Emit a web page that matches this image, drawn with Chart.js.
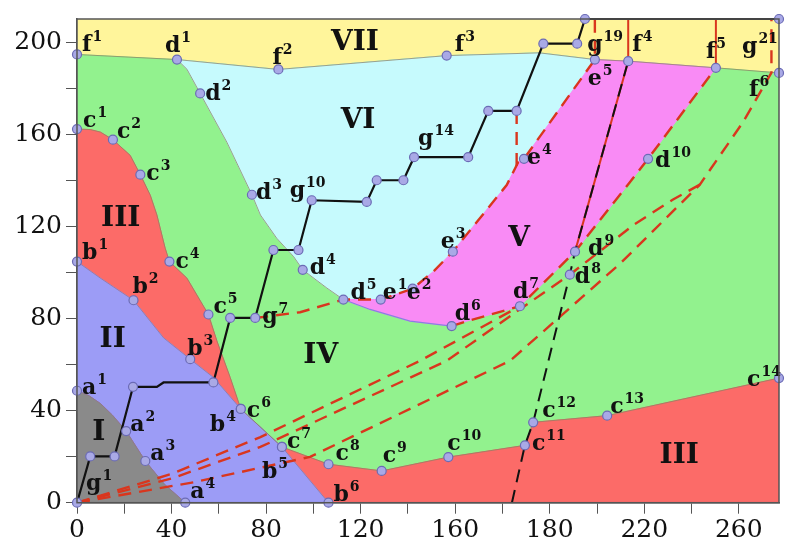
<!DOCTYPE html>
<html>
<head>
<meta charset="utf-8">
<script src="https://cdn.jsdelivr.net/npm/chart.js@4.4.1/dist/chart.umd.min.js"></script>
<style>
  html, body { margin: 0; padding: 0; background: #ffffff; }
  #wrap { width: 786px; height: 544px; }
</style>
</head>
<body>
<div id="wrap"><canvas id="chart" width="786" height="544"></canvas></div>
<script>
// ---------- axis tick labels ----------
const xTickLabels = ['0', '40', '80', '120', '160', '180', '220', '260'];
const yTickLabels = ['0', '40', '80', '120', '160', '200'];
const X_MAX = 297, Y_MAX = 210;

// ---------- named points (axis units) ----------
const aPts = [[0, 48.6], [20.8, 31.1], [28.9, 18.1], [45.8, 0]];                                   // a1..a4
const bPts = [[0, 104.7], [23.9, 87.9], [47.9, 62.3], [69.3, 40.7], [86.7, 24.2], [106.4, 0]];     // b1..b6
const cPts = [[0, 162.2], [15.2, 157.6], [26.8, 142.4], [39.1, 104.7], [55.6, 81.7], [69.3, 40.7],
              [86.7, 24.2], [106.4, 16.7], [128.9, 13.8], [157.1, 19.8], [189.5, 24.9], [193, 34.9],
              [224.3, 37.8], [297, 54.1]];                                                          // c1..c14
const dPts = [[42.3, 192.4], [52.1, 177.7], [74, 133.7], [95.5, 101.1], [112.7, 88.2], [158.5, 76.7],
              [187.4, 85.3], [208.5, 99], [210.7, 109], [241.6, 149.3]];                            // d1..d10
const ePts = [[128.5, 88.2], [142, 92.9], [159, 109], [189.1, 149.3], [219.1, 192.4]];             // e1..e5
const fPts = [[0, 194.6], [85.2, 188.1], [156.4, 194.1], [233.2, 191.7], [270.3, 188.8], [297, 186.6]]; // f1..f6
const gPts = [[0, 0], [5.6, 20.1], [15.9, 20.1], [23.7, 50.3], [57.7, 52.2], [64.8, 80.2], [75.4, 80.2],
              [83.1, 109.7], [93.7, 109.7], [99.3, 131.3], [122.6, 130.6], [126.8, 140], [138.1, 140],
              [142.6, 150], [165.5, 150], [174, 170.1], [186, 170.1], [197.3, 199.3], [211.6, 199.3],
              [214.9, 210], [297, 210]];                                                            // g1..g21

// ---------- boundary curves (extra read-off points between named points) ----------
const curveI_II = [aPts[0], [5, 46.5], [10, 43], [15, 38], aPts[1], aPts[2], [37, 8], aPts[3]];
const curveII_III = [bPts[0], [9.9, 97.5], bPts[1], [36.6, 71.6], bPts[2], [57.7, 54.4], bPts[3], bPts[4], bPts[5]];
const curveIII_IV = [cPts[0], [5.6, 162], [9.9, 160.9], cPts[1], [22.5, 150.8], cPts[2], [31, 133.5],
                     [33.8, 124.9], [37.3, 110.5], cPts[3], [46.5, 97.5], cPts[4], [59.2, 70.2], [64.8, 54.4], cPts[5]];
const curveIV_IIIb = [cPts[6], cPts[7], cPts[8], cPts[9], cPts[10], cPts[11], cPts[12], cPts[13]];
const curveIV_VI = [dPts[0], [46.5, 188.2], dPts[1], [63.4, 156.5], dPts[2], [77.6, 124.9], [84.5, 114.8],
                    [91.6, 106.9], dPts[3], [105.7, 93.2], dPts[4]];
const curveVI_V = [dPts[4], ePts[0], ePts[1], [150.8, 100.4], ePts[2], [181.8, 137.9], [186.7, 147.9], ePts[3], ePts[4]];
const curveV_IVlow = [dPts[4], [124, 83.9], [140.9, 78.8], dPts[5]];
const curveV_IVup = [dPts[5], [164.9, 78.8], dPts[6], dPts[8], [233.9, 139.1], dPts[9], fPts[4]];
const curveVII = [fPts[0], dPts[0], fPts[1], fPts[2], [195.6, 195.3], ePts[4], fPts[3], fPts[4], fPts[5]];

// dashed transition lines
const lineG7 = [gPts[6], [94.4, 82.7], dPts[4]];
const lineOriginA = [[0, 0], [40, 12.5], [77.6, 28.5], [145.1, 61.6], dPts[6]];
const lineOriginB = [[0, 0], [40, 10.5], [77.6, 24.2], [156.4, 61.6], [187.4, 84], dPts[7], [236, 121], [252, 131.5], [263.5, 138.1]];
const lineOriginC = [[0, 0], [50, 9], [98.6, 19.9], [183.2, 61.6], [230, 104], [263.5, 138.1], [281.7, 165.1], [293.8, 186.7], [293.8, 210]];
const lineBlack = [[184, 0], cPts[10], cPts[11], dPts[7], dPts[8], fPts[3]];
const stairs = [gPts[0], gPts[1], gPts[2], gPts[3], [33.8, 50.3], [36.6, 52.2], ...gPts.slice(4)];

// ---------- text ----------
const pointLabels = [
  ['f', '1', fPts[0], 5, -3], ['d', '1', dPts[0], -12, -8], ['f', '2', fPts[1], -6, -5],
  ['f', '3', fPts[2], 8, -5], ['g', '19', gPts[18], 10, 7], ['f', '4', fPts[3], 4, -10],
  ['f', '5', fPts[4], -10, -10], ['g', '21', gPts[20], -37, 34], ['f', '6', fPts[5], -30, 23],
  ['e', '5', ePts[4], -7, 25], ['d', '2', dPts[1], 5, 7], ['g', '14', gPts[13], 4, -12],
  ['c', '1', cPts[0], 6, -2], ['c', '2', cPts[1], 4, -2], ['c', '3', cPts[2], 6, 5],
  ['d', '3', dPts[2], 4, 4], ['g', '10', gPts[9], -22, -3], ['e', '4', ePts[3], 3, 5],
  ['d', '10', dPts[9], 7, 8], ['e', '3', ePts[2], -12, -4], ['b', '1', bPts[0], 5, -3],
  ['c', '4', cPts[3], 6, 6], ['d', '9', dPts[8], 13, 3], ['d', '8', dPts[7], 5, 8],
  ['d', '4', dPts[3], 7, 4], ['b', '2', bPts[1], -1, -7], ['d', '5', dPts[4], 7, -1],
  ['e', '1', ePts[0], 2, -1], ['e', '2', ePts[1], -6, 10], ['c', '5', cPts[4], 5, -2],
  ['g', '7', gPts[6], 7, 5], ['d', '6', dPts[5], 3, -6], ['d', '7', dPts[6], -7, -8],
  ['b', '3', bPts[2], -3, -4], ['a', '1', aPts[0], 5, 3], ['c', '14', cPts[13], -32, 8],
  ['c', '6', cPts[5], 6, 8], ['b', '4', bPts[3], -31, 22], ['a', '2', aPts[1], 4, 0],
  ['c', '12', cPts[11], 9, -5], ['c', '13', cPts[12], 3, -3], ['c', '7', cPts[6], 5, 1],
  ['c', '11', cPts[10], 7, 5], ['a', '3', aPts[2], 5, -1], ['c', '10', cPts[9], -1, -7],
  ['c', '8', cPts[7], 7, -4], ['c', '9', cPts[8], 1, -9], ['b', '5', bPts[4], -20, 31],
  ['g', '1', gPts[0], 9, -13], ['a', '4', aPts[3], 5, -5], ['b', '6', bPts[5], 5, -2]
];
const regionLabels = [
  ['VII', [117.6, 199.7]], ['VI', [118.9, 165.8]], ['V', [187, 114.5]], ['IV', [103.1, 63.7]],
  ['III', [18.5, 123.3]], ['II', [15.1, 70.9]], ['I', [9.2, 30.3]], ['III', [254.8, 20.2]]
];

// ---------- colours ----------
const C = {
  yellow: '#FFF59B', green: '#92F28E', cyan: '#C6FAFD', magenta: '#F98BF5',
  red: '#FC6B68', blue: '#9C9CF6', gray: '#8A8A8A',
  dashRed: '#D9361E', black: '#111111', edge: 'rgba(140,130,100,0.75)'
};

// ---------- dataset builders ----------
const xy = arr => arr.map(p => ({ x: p[0], y: p[1] }));
const area = (pts, color) => ({ data: xy(pts), fill: 'shape', backgroundColor: color, borderColor: color,
  borderWidth: 1, pointRadius: 0, tension: 0 });
const path = (pts, color, width, dash) => ({ data: xy(pts), fill: false, borderColor: color, borderWidth: width,
  borderDash: dash || [], pointRadius: 0, tension: 0, clip: false });
const dots = pts => ({ data: xy(pts), showLine: false, pointRadius: 4.5, pointBackgroundColor: '#A9A9E6',
  pointBorderColor: '#6B6BB5', pointBorderWidth: 1.2, clip: false });

const DASH = [13, 8];
const datasets = [
  area([[0, 0], [X_MAX, 0], [X_MAX, Y_MAX], [0, Y_MAX]], C.yellow),
  area([...curveVII, [X_MAX, 0], [0, 0]], C.green),
  area([dPts[0], fPts[1], fPts[2], [195.6, 195.3], ePts[4], ...curveVI_V.slice().reverse(), ...curveIV_VI.slice().reverse()], C.cyan),
  area([ePts[4], fPts[3], fPts[4], ...curveV_IVup.slice().reverse(), ...curveV_IVlow.slice().reverse(), ...curveVI_V], C.magenta),
  area([...curveIII_IV, ...curveII_III.slice(0, 7).reverse()], C.red),
  area([...curveIV_IIIb, [X_MAX, 0], bPts[5], bPts[4]], C.red),
  area([...curveII_III, [0, 0]], C.blue),
  area([[0, 0], ...curveI_II.slice().reverse()], C.gray),

  path(curveI_II, 'rgba(150,110,140,0.7)', 1),
  path(curveII_III, 'rgba(150,110,140,0.7)', 1),
  path(curveIII_IV, C.edge, 1),
  path(curveIV_IIIb, C.edge, 1),
  path(curveIV_VI, C.edge, 1),
  path(curveVII, C.edge, 1),
  path(curveV_IVlow, '#8A7FE0', 1.2),
  path([bPts[3], bPts[4]], C.edge, 1),

  path(lineOriginC, C.dashRed, 2.4, DASH),
  path(lineOriginB, C.dashRed, 2.4, DASH),
  path(lineOriginA, C.dashRed, 2.4, DASH),
  path([...lineG7, ...curveVI_V.slice(1), [ePts[4][0], Y_MAX]], C.dashRed, 2.4, DASH),
  path([gPts[16], [186, 146]], C.dashRed, 2.4, DASH),
  path(curveV_IVup, C.dashRed, 2.4, DASH),
  path([fPts[4], [fPts[4][0], Y_MAX]], C.dashRed, 2, []),
  path([fPts[3], [fPts[3][0], Y_MAX]], C.dashRed, 2, []),
  path([dPts[8], fPts[3]], C.dashRed, 2, []),
  path(lineBlack, C.black, 2, DASH),
  path(stairs, C.black, 2.2, []),

  dots([...aPts, ...bPts, ...cPts, ...dPts, ...ePts, ...fPts, ...gPts])
];
datasets.forEach((d, i) => { d.order = datasets.length - i; });

// ---------- text and frame ----------
const phaseText = {
  id: 'phaseText',
  afterDatasetsDraw(chart) {
    const { ctx, scales: { x, y } } = chart;
    ctx.save();
    ctx.fillStyle = '#111';
    ctx.textAlign = 'left';
    ctx.textBaseline = 'alphabetic';
    for (const [base, sup, p, dx, dy] of pointLabels) {
      const px = x.getPixelForValue(p[0]) + dx;
      const py = y.getPixelForValue(p[1]) + dy;
      ctx.font = 'bold 22px "DejaVu Serif"';
      ctx.fillText(base, px, py);
      const w = ctx.measureText(base).width;
      ctx.font = 'bold 14px "DejaVu Serif"';
      ctx.fillText(sup, px + w + 1, py - 10);
    }
    ctx.textAlign = 'center';
    ctx.textBaseline = 'middle';
    ctx.font = 'bold 28px "DejaVu Serif"';
    for (const [t, p] of regionLabels) {
      ctx.fillText(t, x.getPixelForValue(p[0]), y.getPixelForValue(p[1]));
    }
    ctx.restore();
  },
  afterDraw(chart) {
    const { ctx, chartArea: a } = chart;
    ctx.save();
    ctx.strokeStyle = '#555';
    ctx.lineWidth = 1.5;
    ctx.strokeRect(a.left, a.top, a.right - a.left, a.bottom - a.top);
    ctx.restore();
  }
};

new Chart(document.getElementById('chart'), {
  type: 'line',
  data: { datasets },
  options: {
    responsive: false,
    animation: false,
    devicePixelRatio: 1,
    layout: { padding: { top: 16, right: 7, left: 0, bottom: 0 } },
    plugins: { legend: { display: false }, tooltip: { enabled: false } },
    events: [],
    scales: {
      x: {
        type: 'linear', min: 0, max: X_MAX,
        afterFit: s => { s.height = 41.3; },
        border: { display: true, color: '#555', width: 1.5 },
        grid: { drawOnChartArea: false, drawTicks: true, tickLength: 11, color: '#555' },
        ticks: {
          stepSize: 20, includeBounds: false, autoSkip: false, maxRotation: 0, padding: 2,
          color: '#111', font: { family: 'DejaVu Serif', size: 25 },
          callback: v => (v % 40 === 0 ? xTickLabels[v / 40] : '')
        }
      },
      y: {
        type: 'linear', min: 0, max: Y_MAX,
        afterFit: s => { s.width = 77; },
        border: { display: true, color: '#555', width: 1.5 },
        grid: { drawOnChartArea: false, drawTicks: true, tickLength: 11, color: '#555' },
        ticks: {
          stepSize: 20, includeBounds: false, autoSkip: false, padding: 4,
          color: '#111', font: { family: 'DejaVu Serif', size: 25 },
          callback: v => (v % 40 === 0 ? yTickLabels[v / 40] : '')
        }
      }
    }
  },
  plugins: [phaseText]
});
</script>
</body>
</html>
